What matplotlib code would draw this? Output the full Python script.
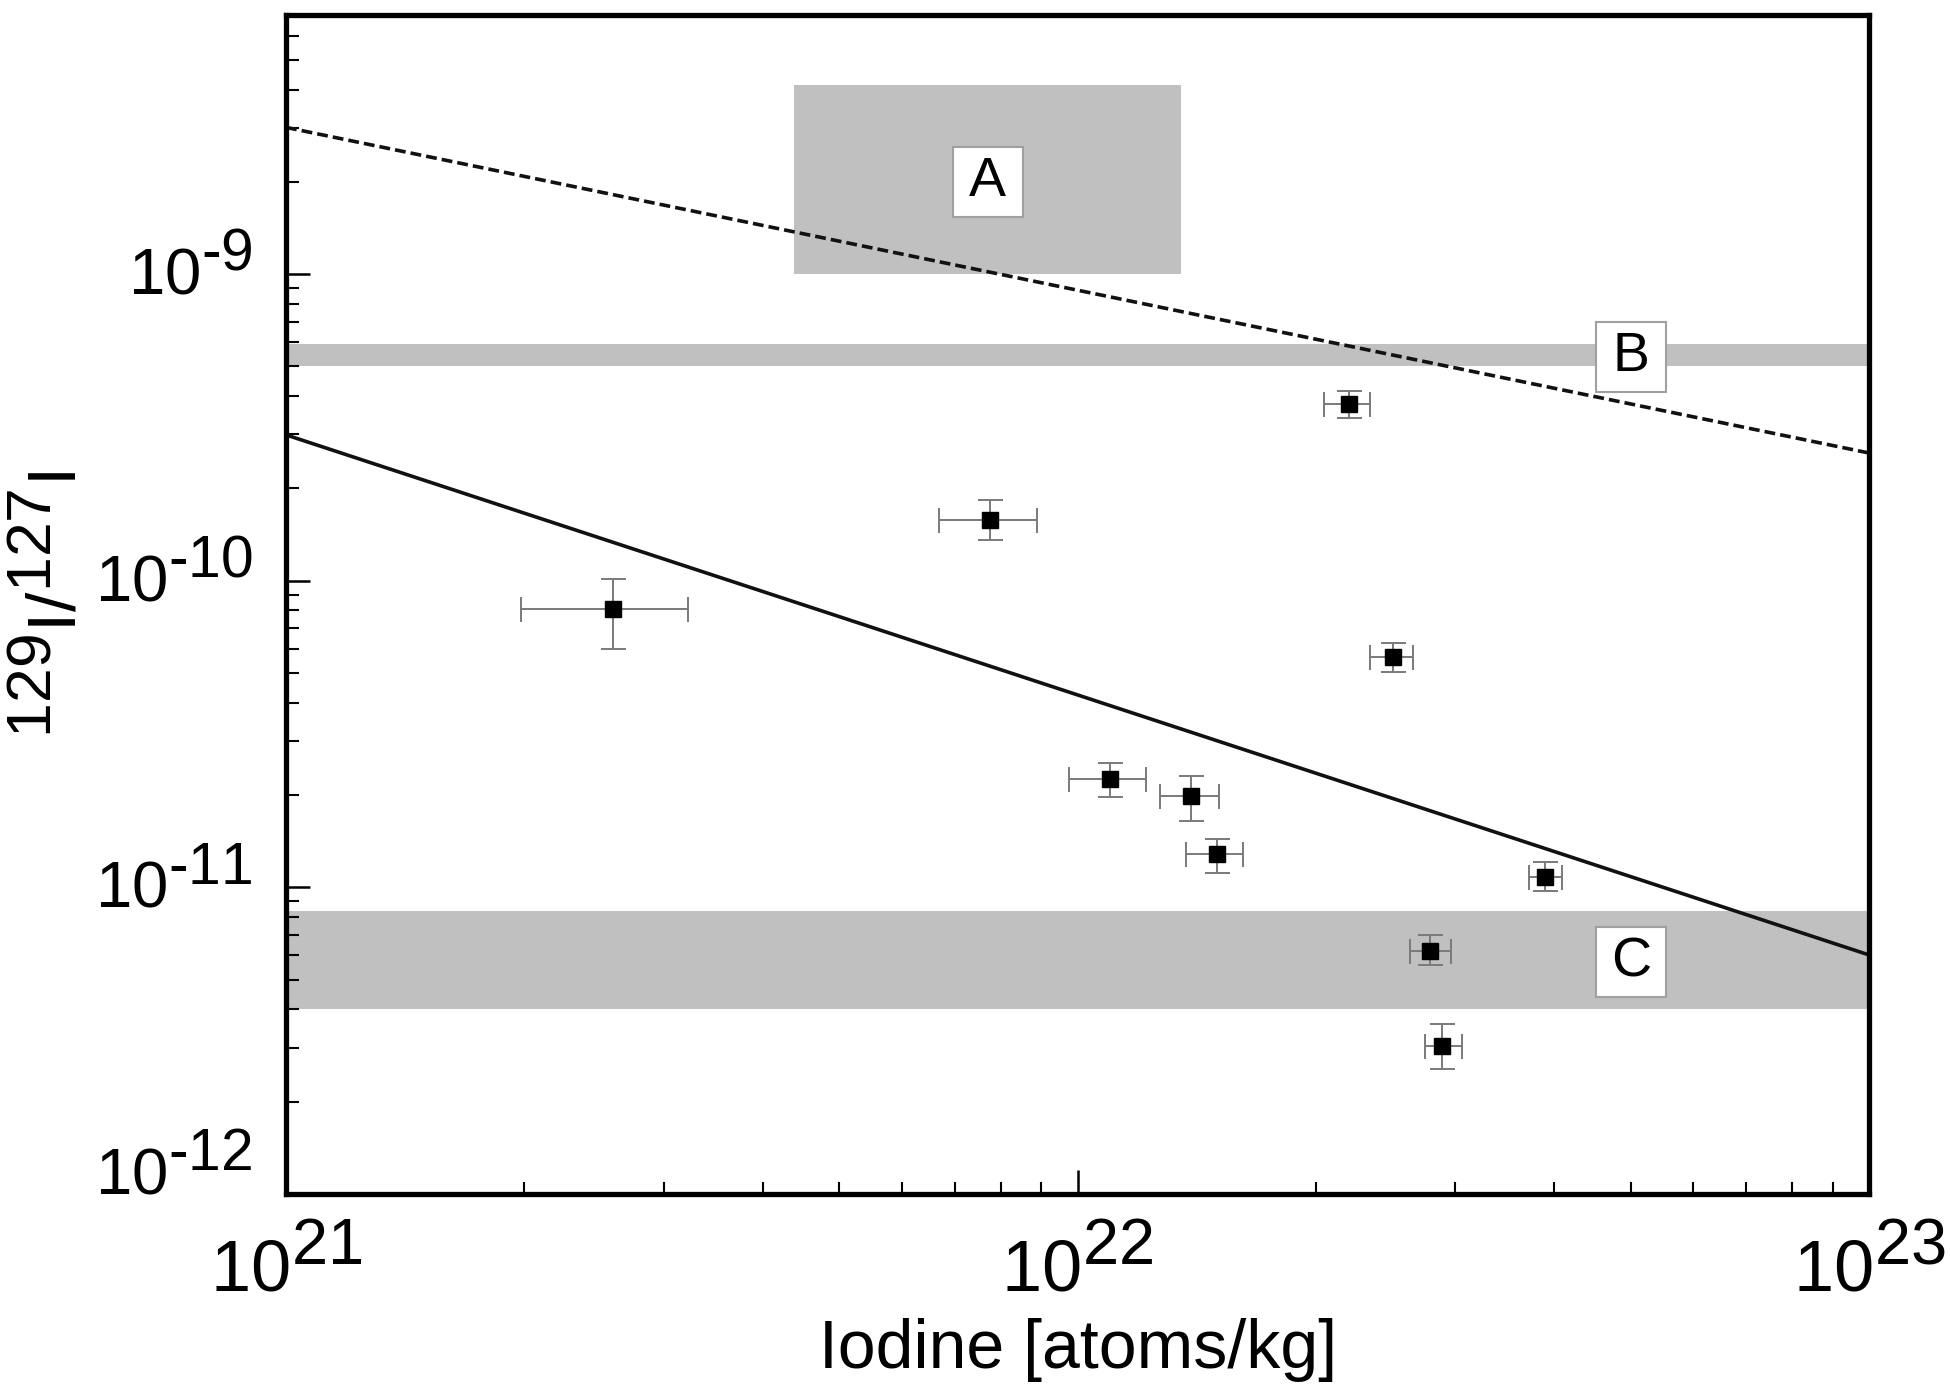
import matplotlib
matplotlib.use('Agg')
import matplotlib.pyplot as plt
import matplotlib._mathtext as mathtext_internal
import matplotlib.transforms as mtransforms
import numpy as np
from matplotlib.ticker import LogLocator, NullFormatter, FuncFormatter

# superscripts in the original are almost full size
mathtext_internal.SHRINK_FACTOR = 0.9

plt.rcParams['font.family'] = 'Liberation Sans'
plt.rcParams['mathtext.fontset'] = 'custom'
plt.rcParams['mathtext.rm'] = 'Liberation Sans'
plt.rcParams['mathtext.it'] = 'Liberation Sans:italic'
plt.rcParams['mathtext.bf'] = 'Liberation Sans:bold'
plt.rcParams['mathtext.default'] = 'regular'

# measured samples: iodine concentration and isotope ratio, with error ranges
iodine = [2.59e21, 7.75e21, 2.20e22, 2.50e22, 1.10e22, 1.39e22, 1.50e22, 3.90e22, 2.79e22, 2.89e22]
iodine_lo = [1.98e21, 6.69e21, 2.05e22, 2.34e22, 9.75e21, 1.27e22, 1.37e22, 3.72e22, 2.63e22, 2.75e22]
iodine_hi = [3.22e21, 8.88e21, 2.34e22, 2.65e22, 1.22e22, 1.51e22, 1.62e22, 4.09e22, 2.96e22, 3.06e22]
ratio = [8.07e-11, 1.58e-10, 3.77e-10, 5.63e-11, 2.26e-11, 1.98e-11, 1.28e-11, 1.08e-11, 6.22e-12, 3.04e-12]
ratio_lo = [5.98e-11, 1.36e-10, 3.39e-10, 5.05e-11, 1.97e-11, 1.64e-11, 1.11e-11, 9.7e-12, 5.58e-12, 2.55e-12]
ratio_hi = [1.01e-10, 1.83e-10, 4.17e-10, 6.25e-11, 2.55e-11, 2.31e-11, 1.44e-11, 1.21e-11, 6.99e-12, 3.58e-12]

# two power-law lines
line_x = [1e21, 1e23]
solid_y = [2.99e-10, 6.02e-12]
dashed_y = [3.01e-9, 2.61e-10]

# shaded ranges
band_a_x = [4.38e21, 1.35e22]
band_a_y = [1.0e-9, 4.15e-9]
band_b_y = [5.0e-10, 5.9e-10]
band_c_y = [4.0e-12, 8.4e-12]

box_labels = ['A', 'B', 'C']
box_x = [7.7e21, 5.0e22, 5.0e22]
box_y = [2.0e-9, 5.37e-10, 5.69e-12]

x_ticks = [1e21, 1e22, 1e23]
y_ticks = [1e-12, 1e-11, 1e-10, 1e-9]


def pow_label(v, pos):
    e = int(round(np.log10(v)))
    if e < 0:
        # plain hyphen like the original, not the wide minus sign
        return r'$10^{\text{-}%d}$' % (-e)
    return r'$10^{%d}$' % e


fig = plt.figure(figsize=(19.5, 13.89), dpi=100)
ax = fig.add_axes([0.1467, 0.1404, 0.8118, 0.8488])

band_color = '#c0c0c0'
ax.fill_between(band_a_x, band_a_y[0], band_a_y[1], color=band_color, lw=0, zorder=1)
ax.axhspan(band_b_y[0], band_b_y[1], color=band_color, lw=0, zorder=1)
ax.axhspan(band_c_y[0], band_c_y[1], color=band_color, lw=0, zorder=1)

ax.plot(line_x, solid_y, color='#111111', lw=2.6, zorder=2)
ax.plot(line_x, dashed_y, color='#111111', lw=2.6, ls=(0, (3, 1.4)), zorder=2)

xerr = [np.array(iodine) - np.array(iodine_lo), np.array(iodine_hi) - np.array(iodine)]
yerr = [np.array(ratio) - np.array(ratio_lo), np.array(ratio_hi) - np.array(ratio)]
ax.errorbar(iodine, ratio, xerr=xerr, yerr=yerr, fmt='none', ecolor='#7a7a7a',
            elinewidth=1.4, capsize=9, capthick=1.4, zorder=3)
ax.plot(iodine, ratio, 's', color='black', ms=12, zorder=4)

# white label squares
ax.plot(box_x, box_y, 's', ms=50, mfc='white', mec='#a0a0a0', mew=1.5, zorder=5)
for lab, bx, by in zip(box_labels, box_x, box_y):
    ax.text(bx, by, lab, fontsize=40, ha='center', va='center', zorder=6)

ax.set_xscale('log')
ax.set_yscale('log')
ax.set_xlim(1e21, 1e23)
ax.set_ylim(1e-12, 7e-9)

ax.set_xticks(x_ticks)
ax.set_yticks(y_ticks)
ax.xaxis.set_minor_locator(LogLocator(base=10, subs=np.arange(2, 10), numticks=20))
ax.yaxis.set_minor_locator(LogLocator(base=10, subs=np.arange(2, 10), numticks=20))
ax.xaxis.set_minor_formatter(NullFormatter())
ax.yaxis.set_minor_formatter(NullFormatter())
ax.xaxis.set_major_formatter(FuncFormatter(pow_label))
ax.yaxis.set_major_formatter(FuncFormatter(pow_label))

ax.tick_params(which='both', direction='in', top=False, right=False)
ax.tick_params(which='major', length=17, width=1.8)
ax.tick_params(which='minor', length=9, width=1.5)
ax.tick_params(axis='x', which='major', pad=26, labelsize=52)
ax.tick_params(axis='y', which='major', pad=24, labelsize=47)
for sp in ax.spines.values():
    sp.set_linewidth(3.8)

# y tick labels sit a little above their ticks, the lowest one more so
for i, lab in enumerate(ax.get_yticklabels()):
    dy = 0.28 if i == 0 else 0.08
    lab.set_transform(lab.get_transform() + mtransforms.ScaledTranslation(0, dy, fig.dpi_scale_trans))

ax.set_xlabel('Iodine [atoms/kg]', fontsize=49)
ax.set_ylabel(r'$^{129}$I/$^{127}$I', fontsize=50)
ax.xaxis.set_label_coords(0.5, -0.105)
ax.yaxis.set_label_coords(-0.124, 0.5)

fig.savefig('out.png', dpi=100)
